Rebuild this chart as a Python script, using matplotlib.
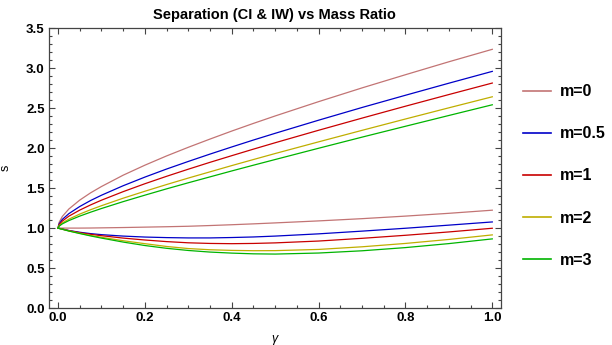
import matplotlib
matplotlib.use("Agg")
import matplotlib.pyplot as plt
from matplotlib.ticker import MultipleLocator

plt.rcParams['font.family'] = ['Liberation Sans', 'DejaVu Sans']

# mass ratio samples
gamma = [0, 0.0025, 0.01, 0.025, 0.05, 0.075, 0.1, 0.15, 0.2, 0.25, 0.3,
         0.35, 0.4, 0.45, 0.5, 0.6, 0.7, 0.8, 0.9, 1.0]

# upper branch of separation for each m
s_up_m0 = [1.0, 1.071, 1.146, 1.239, 1.350, 1.441, 1.520, 1.662, 1.787, 1.903,
           2.011, 2.114, 2.214, 2.310, 2.403, 2.582, 2.754, 2.919, 3.081, 3.237]
s_up_m05 = [1.0, 1.052, 1.109, 1.181, 1.270, 1.345, 1.411, 1.530, 1.638, 1.739,
            1.834, 1.926, 2.015, 2.102, 2.186, 2.350, 2.509, 2.662, 2.813, 2.961]
s_up_m1 = [1.0, 1.041, 1.088, 1.149, 1.225, 1.290, 1.349, 1.456, 1.555, 1.648,
           1.737, 1.823, 1.906, 1.988, 2.068, 2.224, 2.376, 2.525, 2.671, 2.815]
s_up_m2 = [1.0, 1.030, 1.065, 1.112, 1.175, 1.230, 1.280, 1.374, 1.461, 1.545,
           1.626, 1.704, 1.782, 1.858, 1.933, 2.079, 2.223, 2.365, 2.505, 2.643]
s_up_m3 = [1.0, 1.024, 1.053, 1.094, 1.150, 1.199, 1.245, 1.331, 1.412, 1.491,
           1.567, 1.641, 1.715, 1.787, 1.858, 1.999, 2.138, 2.274, 2.409, 2.543]

# lower branch
s_lo_m0 = [1.0, 1.0, 1.0, 1.0, 1.0, 1.001, 1.003, 1.007, 1.012, 1.017,
           1.023, 1.032, 1.042, 1.053, 1.065, 1.090, 1.118, 1.150, 1.185, 1.224]
s_lo_m05 = [1.0, 0.997, 0.988, 0.970, 0.948, 0.931, 0.918, 0.900, 0.888, 0.881,
            0.877, 0.877, 0.882, 0.889, 0.900, 0.928, 0.962, 0.998, 1.037, 1.077]
s_lo_m1 = [1.0, 0.997, 0.987, 0.968, 0.942, 0.922, 0.905, 0.875, 0.851, 0.831,
           0.816, 0.808, 0.805, 0.808, 0.815, 0.838, 0.872, 0.910, 0.952, 0.998]
s_lo_m2 = [1.0, 0.996, 0.986, 0.965, 0.935, 0.908, 0.885, 0.842, 0.805, 0.770,
           0.744, 0.729, 0.721, 0.717, 0.718, 0.733, 0.766, 0.808, 0.858, 0.915]
s_lo_m3 = [1.0, 0.996, 0.985, 0.963, 0.932, 0.902, 0.875, 0.825, 0.782, 0.747,
           0.720, 0.700, 0.687, 0.678, 0.675, 0.688, 0.716, 0.756, 0.806, 0.865]

labels = ['m=0', 'm=0.5', 'm=1', 'm=2', 'm=3']
colors = ['#c27474', '#0000c8', '#c80000', '#bfae00', '#00b400']
upper = [s_up_m0, s_up_m05, s_up_m1, s_up_m2, s_up_m3]
lower = [s_lo_m0, s_lo_m05, s_lo_m1, s_lo_m2, s_lo_m3]

fig = plt.figure(figsize=(6.12, 3.45), dpi=100)
ax = fig.add_axes([0.0796, 0.1072, 0.7390, 0.8108])

for lab, col, up, lo in zip(labels, colors, upper, lower):
    ax.plot(gamma, up, color=col, lw=0.9, label=lab)
    ax.plot(gamma, lo, color=col, lw=0.9)

ax.set_xlim(-0.0214, 1.02)
ax.set_ylim(0, 3.5)
ax.xaxis.set_major_locator(MultipleLocator(0.2))
ax.xaxis.set_minor_locator(MultipleLocator(0.05))
ax.yaxis.set_major_locator(MultipleLocator(0.5))
ax.yaxis.set_minor_locator(MultipleLocator(0.1))
ax.tick_params(which='both', direction='in', top=True, right=True,
               color='#444444', width=0.8)
ax.tick_params(which='major', length=4.5, labelsize=9.5, pad=3)
ax.tick_params(which='minor', length=2.5)
for lbl in ax.get_xticklabels() + ax.get_yticklabels():
    lbl.set_fontweight('bold')
for sp in ax.spines.values():
    sp.set_color('#444444')
    sp.set_linewidth(0.9)

ax.set_title('Separation (CI & IW) vs Mass Ratio', fontsize=10.5,
             fontweight='bold', pad=7)
ax.set_xlabel('γ', fontsize=9, fontstyle='italic', labelpad=6)
ax.set_ylabel('s', fontsize=9)
ax.yaxis.set_label_coords(-0.081, 0.5)

fig.legend(handles=[plt.Line2D([], [], color=c, lw=1.2) for c in colors],
           labels=labels, loc='center left', bbox_to_anchor=(0.854, 0.49),
           frameon=False, borderpad=0, borderaxespad=0, handlelength=1.75,
           handletextpad=0.6, labelspacing=1.7,
           prop={'size': 11.5, 'weight': 'bold'})

fig.savefig('out.png', dpi=100)
